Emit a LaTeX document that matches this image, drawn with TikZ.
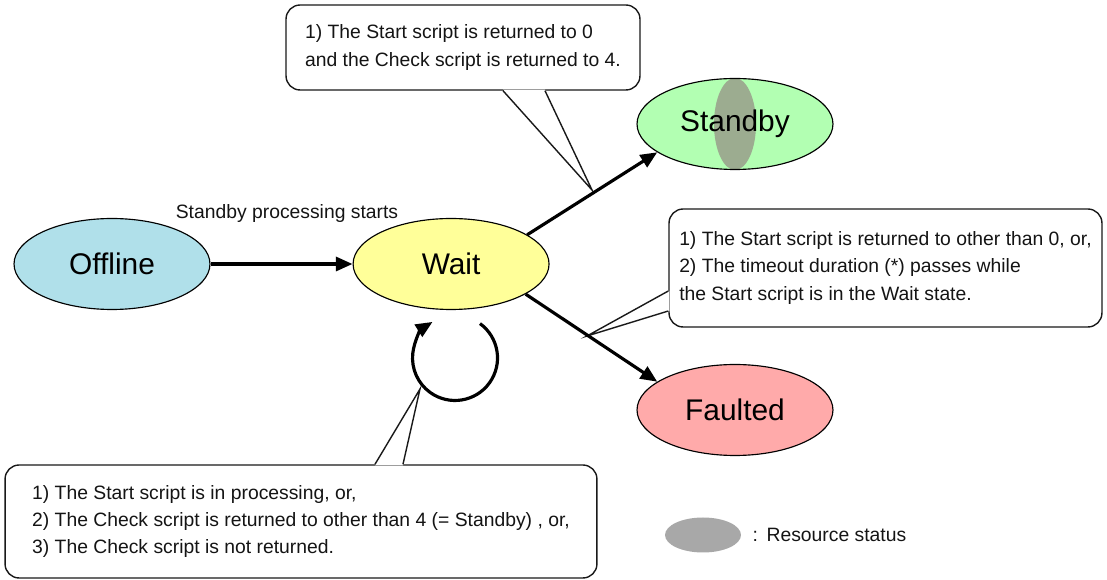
\documentclass[tikz,border=0pt]{standalone}
\usepackage{fontspec}
\setmainfont{Liberation Sans}
\usetikzlibrary{arrows.meta,positioning,shapes.geometric}
\definecolor{offcol}{HTML}{B0E0EA}
\definecolor{waitcol}{HTML}{FFFF99}
\definecolor{stbycol}{HTML}{B2FFB2}
\definecolor{fltcol}{HTML}{FFAAAA}
\definecolor{rescol}{HTML}{9CAC90}
\definecolor{resgray}{HTML}{A8A8A8}

\begin{document}
\begin{tikzpicture}[
    x=0.02cm, y=-0.02cm,
    state/.style={ellipse, draw=black, line width=0.65pt, minimum width=3.92cm, minimum height=1.82cm, inner sep=0pt, font=\fontsize{17}{20}\selectfont},
    bubble/.style={rectangle, rounded corners=8pt, draw=black!90, line width=0.8pt, fill=white, align=left, inner sep=0pt, text=black!92, font=\fontsize{11}{15.5}\selectfont},
    pointer/.style={draw=black!90, line width=0.8pt},
    arrow/.style={-{Triangle[length=9.5pt, width=8pt]}, line width=1.8pt}
]
\useasboundingbox (0,0) rectangle (1107,580);

\node[bubble, minimum width=7.08cm, minimum height=1.7cm] (n1) at (463,47.5) {1) The Start script is returned to 0\\and the Check script is returned to 4.};
\node[bubble, minimum width=8.66cm, minimum height=2.36cm] (n2) at (885.5,268) {1) The Start script is returned to other than 0, or,\\2) The timeout duration (*) passes while\\the Start script is in the Wait state.};
\node[bubble, minimum width=11.84cm, minimum height=2.26cm] (n3) at (301,521.5) {1) The Start script is in processing, or,\\2) The Check script is returned to other than 4 (= Standby) , or,\\3) The Check script is not returned.};

\coordinate (t1) at (592,190);
\coordinate (t2) at (587,336);
\coordinate (t3) at (420,389);

\fill[white] ([xshift=0.8cm, yshift=0.6pt]n1.south) -- (t1) -- ([xshift=1.64cm, yshift=0.6pt]n1.south) -- cycle;
\draw[pointer] ([xshift=0.8cm]n1.south) -- (t1) -- ([xshift=1.64cm]n1.south);
\fill[white] ([xshift=0.6pt, yshift=-0.46cm]n2.west) -- (t2) -- ([xshift=0.6pt, yshift=-0.86cm]n2.west) -- cycle;
\draw[pointer] ([yshift=-0.46cm]n2.west) -- (t2) -- ([yshift=-0.86cm]n2.west);
\fill[white] ([xshift=1.48cm, yshift=-0.6pt]n3.north) -- (t3) -- ([xshift=2.04cm, yshift=-0.6pt]n3.north) -- cycle;
\draw[pointer] ([xshift=1.48cm]n3.north) -- (t3) -- ([xshift=2.04cm]n3.north);

\node[state, fill=offcol] (off) at (112,264) {Offline};
\node[state, fill=waitcol, right=2.84cm of off] (wait) {Wait};
\node[state, fill=stbycol, path picture={\fill[rescol] (path picture bounding box.center) ellipse [x radius=21, y radius=46];}] (stby) at (735,124) {Standby};
\node[state, fill=fltcol] (flt) at (735,410) {Faulted};

\node[font=\fontsize{11}{13}\selectfont, text=black!92] (lbl) at (287,214) {Standby processing starts};

\draw[arrow] (off) -- (wait);
\draw[arrow] (wait.21) -- (stby.200);
\draw[arrow] (wait.-22) -- (flt.160);

\coordinate (loopst) at (480,323.6);
\draw[arrow] (loopst) arc[start angle=-54, end angle=238, radius=42.5];

\node[ellipse, fill=resgray, minimum width=1.52cm, minimum height=0.7cm, inner sep=0pt] (leg) at (703,535) {};
\node[right=0.1cm of leg, font=\fontsize{11}{13}\selectfont, text=black!92] (legtxt) {:\hspace{0.45em}Resource status};

\end{tikzpicture}
\end{document}
